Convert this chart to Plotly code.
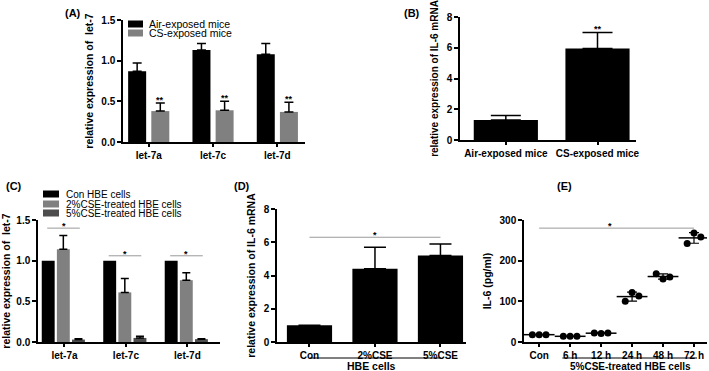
import numpy as np
import plotly.graph_objects as go

# ---------------- data ----------------
# Panel A
a_cats = ["let-7a", "let-7c", "let-7d"]
a_air = [0.87, 1.13, 1.08]
a_air_err = [0.10, 0.08, 0.13]
a_cs = [0.38, 0.39, 0.37]
a_cs_err = [0.10, 0.11, 0.12]
a_series = ["Air-exposed mice", "CS-exposed mice"]

# Panel B
b_cats = ["Air-exposed mice", "CS-exposed mice"]
b_vals = [1.3, 5.95]
b_err = [0.3, 1.05]

# Panel C
c_cats = ["let-7a", "let-7c", "let-7d"]
c_con = [1.0, 1.0, 1.0]
c_2 = [1.14, 0.61, 0.76]
c_2_err = [0.17, 0.17, 0.09]
c_5 = [0.03, 0.05, 0.035]
c_5_err = [0.01, 0.02, 0.005]
c_sig = [1.40, 1.06, 1.06]
c_series = ["Con HBE cells", "2%CSE-treated HBE cells", "5%CSE-treated HBE cells"]

# Panel D
d_cats = ["Con", "2%CSE", "5%CSE"]
d_vals = [1.0, 4.4, 5.2]
d_err = [0, 1.3, 0.7]
d_sig = 6.3

# Panel E
e_cats = ["Con", "6 h", "12 h", "24 h", "48 h", "72 h"]
e_points = [
    [18, 18, 18],
    [14, 14, 14],
    [22, 21, 22],
    [100, 122, 113],
    [168, 155, 160],
    [242, 268, 258],
]
e_sig = 280

# ---------------- style ----------------
FONT = "Liberation Sans, Arial, sans-serif"
BLACK = "#000000"
GRAY = "#808080"
DARK = "#4d4d4d"
SIGC = "#9a9a9a"
W, H = 709, 371


def px_x(p):
    return p / W


def px_y(p):
    return 1 - p / H


fig = go.Figure()

# ---------- Panel A ----------
ai = np.arange(len(a_cats))
fig.add_trace(go.Bar(x=ai, y=a_air, width=0.28, offset=-0.32, marker_color=BLACK,
                     marker_line_width=0, name=a_series[0], showlegend=False,
                     error_y=dict(type="data", array=a_air_err, arrayminus=[0]*3, symmetric=False,
                                  color=BLACK, thickness=1.5, width=4.5),
                     xaxis="x", yaxis="y"))
fig.add_trace(go.Bar(x=ai, y=a_cs, width=0.28, offset=0.04, marker_color=GRAY,
                     marker_line_width=0, name=a_series[1], showlegend=False,
                     error_y=dict(type="data", array=a_cs_err, arrayminus=[0]*3, symmetric=False,
                                  color=BLACK, thickness=1.5, width=4.5),
                     xaxis="x", yaxis="y"))

# ---------- Panel B ----------
bi = np.arange(len(b_cats))
fig.add_trace(go.Bar(x=bi, y=b_vals, width=0.70, marker_color=BLACK, marker_line_width=0,
                     showlegend=False,
                     error_y=dict(type="data", array=b_err, arrayminus=[0]*2, symmetric=False,
                                  color=BLACK, thickness=1.5, width=15),
                     xaxis="x2", yaxis="y2"))

# ---------- Panel C ----------
ci = np.arange(len(c_cats))
fig.add_trace(go.Bar(x=ci, y=c_con, width=0.21, offset=-0.369, marker_color=BLACK,
                     marker_line_width=0, name=c_series[0], showlegend=False,
                     xaxis="x3", yaxis="y3"))
for vals, errs, col, nm, off in [
    (c_2, c_2_err, GRAY, c_series[1], -0.123),
    (c_5, c_5_err, DARK, c_series[2], 0.123),
]:
    fig.add_trace(go.Bar(x=ci, y=vals, width=0.21, offset=off, marker_color=col,
                         marker_line_width=0, name=nm, showlegend=False,
                         error_y=dict(type="data", array=errs, arrayminus=[0]*3, symmetric=False,
                                      color=BLACK, thickness=1.5, width=4),
                         xaxis="x3", yaxis="y3"))

# ---------- Panel D ----------
di = np.arange(len(d_cats))
fig.add_trace(go.Bar(x=di, y=d_vals, width=0.69, marker_color=BLACK, marker_line_width=0,
                     showlegend=False,
                     error_y=dict(type="data", array=d_err, arrayminus=[0]*3, symmetric=False,
                                  color=BLACK, thickness=1.5, width=11),
                     xaxis="x4", yaxis="y4"))

# ---------- Panel E ----------
jit = [-0.22, 0.0, 0.22]
for k, pts in enumerate(e_points):
    fig.add_trace(go.Scatter(x=[k + j for j in jit], y=pts, mode="markers",
                             marker=dict(color=BLACK, size=7), showlegend=False,
                             xaxis="x5", yaxis="y5"))
means = [float(np.mean(p)) for p in e_points]
sds = [float(np.std(p, ddof=1)) for p in e_points]
fig.add_trace(go.Scatter(x=list(range(len(e_cats))), y=means, mode="markers",
                         marker=dict(symbol="line-ew", size=22, color=BLACK,
                                     line=dict(width=1.5, color=BLACK)),
                         error_y=dict(type="data", array=sds, color=BLACK, thickness=1.2, width=5),
                         showlegend=False, xaxis="x5", yaxis="y5"))

# ---------------- axes ----------------
tickfont = dict(family=FONT, size=10, color=BLACK, weight="bold")
titlefont = dict(family=FONT, size=10.5, color=BLACK, weight="bold")
common_y = dict(showline=True, linecolor=BLACK, linewidth=1.5, ticks="outside", ticklen=4,
                tickwidth=1.5, tickcolor=BLACK, showgrid=False, zeroline=False,
                tickfont=tickfont, title_font=titlefont, title_standoff=6, automargin=False)
common_x = dict(showline=True, linecolor=BLACK, linewidth=1.5, ticks="outside", ticklen=3,
                tickwidth=1.5, tickcolor=BLACK, showgrid=False, zeroline=False,
                tickfont=tickfont, automargin=False)

layout = dict(
    width=W, height=H, margin=dict(l=0, r=0, t=0, b=0, autoexpand=False),
    plot_bgcolor="white", paper_bgcolor="white", showlegend=False,
    barmode="group", font=dict(family=FONT, color=BLACK),
)

# A
layout["xaxis"] = dict(common_x, domain=[px_x(123), px_x(305)], range=[-0.4, 2.43],
                       tickvals=list(ai), ticktext=a_cats, anchor="y")
layout["yaxis"] = dict(common_y, domain=[px_y(142), px_y(20)], range=[0, 1.5],
                       tickvals=[0, 0.5, 1.0, 1.5], ticktext=["0.0", "0.5", "1.0", "1.5"],
                       title_text="relative expression of  let-7", anchor="x")
# B
layout["xaxis2"] = dict(common_x, domain=[px_x(460), px_x(636)], range=[-0.5, 1.42],
                        tickvals=list(bi), ticktext=b_cats, anchor="y2")
layout["yaxis2"] = dict(common_y, domain=[px_y(140), px_y(17)], range=[0, 8],
                        tickvals=[0, 2, 4, 6, 8], title_text="relative expression of IL-6 mRNA",
                        anchor="x2")
layout["yaxis2"]["title_font"] = dict(titlefont, size=10)
# C
layout["xaxis3"] = dict(common_x, domain=[px_x(38), px_x(220)], range=[-0.43, 2.53],
                        tickvals=list(ci), ticktext=c_cats, anchor="y3")
layout["yaxis3"] = dict(common_y, domain=[px_y(342), px_y(220)], range=[0, 1.5],
                        tickvals=[0, 0.5, 1.0, 1.5], ticktext=["0.0", "0.5", "1.0", "1.5"],
                        title_text="relative expression of  let-7", anchor="x3")
# D
layout["xaxis4"] = dict(common_x, domain=[px_x(277), px_x(466)], range=[-0.496, 2.39],
                        tickvals=list(di), ticktext=d_cats, anchor="y4")
layout["yaxis4"] = dict(common_y, domain=[px_y(342), px_y(209)], range=[0, 8],
                        tickvals=[0, 2, 4, 6, 8], title_text="relative expression of IL-6 mRNA",
                        anchor="x4")
# E
layout["xaxis5"] = dict(common_x, domain=[px_x(524), px_x(707)], range=[-0.49, 5.42],
                        tickvals=list(range(len(e_cats))), ticktext=e_cats, anchor="y5")
layout["yaxis5"] = dict(common_y, domain=[px_y(342), px_y(220)], range=[0, 300],
                        tickvals=[0, 100, 200, 300], title_text="IL-6 (pg/ml)", anchor="x5")

fig.update_layout(**layout)

# ---------------- manual legends ----------------


def add_legend(names, colors, x0, x1, ys, tx, fsize):
    lf = dict(family=FONT, size=fsize, color=BLACK)
    for nm, col, yc in zip(names, colors, ys):
        fig.add_shape(type="rect", xref="paper", yref="paper", x0=px_x(x0), x1=px_x(x1),
                      y0=px_y(yc + 3.5), y1=px_y(yc - 3.5), fillcolor=col, line_width=0)
        fig.add_annotation(text=nm, x=px_x(tx), y=px_y(yc), xref="paper", yref="paper",
                           xanchor="left", yanchor="middle", showarrow=False, font=lf)


add_legend(a_series, [BLACK, GRAY], 128, 143, [24, 33], 147, 10.5)
add_legend(c_series, [BLACK, GRAY, DARK], 43, 59, [194, 204, 213], 64, 10)

# ---------------- annotations & shapes ----------------
lblfont = dict(family=FONT, size=11, color=BLACK, weight="bold")
for txt, x, y in [("(A)", 63, 13), ("(B)", 402, 13), ("(C)", 4, 186), ("(D)", 232, 186), ("(E)", 555, 186)]:
    fig.add_annotation(text=txt, x=px_x(x), y=px_y(y), xref="paper", yref="paper",
                       xanchor="left", yanchor="middle", showarrow=False, font=lblfont)

starfont = dict(family=FONT, size=9, color=BLACK, weight="bold")
# A stars over CS bars
for i in range(len(a_cats)):
    fig.add_annotation(text="**", x=i + 0.18, y=a_cs[i] + a_cs_err[i], xref="x", yref="y",
                       yanchor="bottom", showarrow=False, font=starfont, yshift=-4)
# B star
fig.add_annotation(text="**", x=1, y=b_vals[1] + b_err[1], xref="x2", yref="y2",
                   yanchor="bottom", showarrow=False, font=starfont, yshift=-4)
# C significance lines
for i in range(len(c_cats)):
    fig.add_shape(type="line", x0=i - 0.28, x1=i + 0.25, y0=c_sig[i], y1=c_sig[i],
                  xref="x3", yref="y3", line=dict(color=SIGC, width=1))
    fig.add_annotation(text="*", x=i - 0.015, y=c_sig[i], xref="x3", yref="y3",
                       yanchor="bottom", showarrow=False, font=starfont, yshift=-5)
# D
fig.add_shape(type="line", x0=0, x1=2, y0=d_sig, y1=d_sig, xref="x4", yref="y4",
              line=dict(color=SIGC, width=1))
fig.add_annotation(text="*", x=1, y=d_sig, xref="x4", yref="y4", yanchor="bottom",
                   showarrow=False, font=starfont, yshift=-5)
fig.add_shape(type="line", x0=0, x1=2, y0=px_y(358), y1=px_y(358), xref="x4", yref="paper",
              line=dict(color=BLACK, width=1))
fig.add_annotation(text="HBE cells", x=0.95, y=px_y(366), xref="x4", yref="paper",
                   yanchor="middle", showarrow=False,
                   font=dict(family=FONT, size=10.5, color=BLACK, weight="bold"))
# E
fig.add_shape(type="line", x0=0, x1=5, y0=e_sig, y1=e_sig, xref="x5", yref="y5",
              line=dict(color=SIGC, width=1))
fig.add_annotation(text="*", x=2.3, y=e_sig, xref="x5", yref="y5", yanchor="bottom",
                   showarrow=False, font=starfont, yshift=-5)
fig.add_shape(type="line", x0=0.75, x1=5.1, y0=px_y(358), y1=px_y(358), xref="x5", yref="paper",
              line=dict(color=BLACK, width=1))
fig.add_annotation(text="5%CSE-treated HBE cells", x=2.95, y=px_y(366), xref="x5", yref="paper",
                   yanchor="middle", showarrow=False,
                   font=dict(family=FONT, size=10, color=BLACK, weight="bold"))

fig.write_html("out.html", config={"displayModeBar": False},
               post_script="document.body.style.margin='0';document.body.style.overflow='hidden';")
